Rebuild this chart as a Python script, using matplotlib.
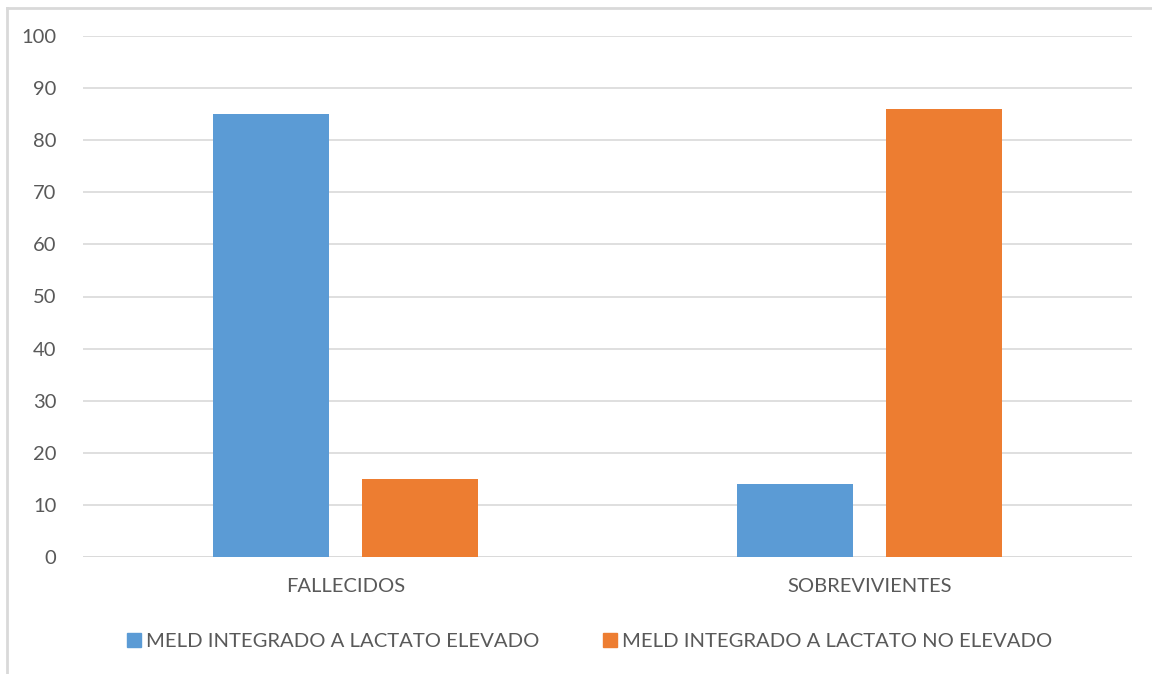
import matplotlib
matplotlib.use("Agg")
import matplotlib.pyplot as plt
from matplotlib.lines import Line2D
import numpy as np

categories = ["FALLECIDOS", "SOBREVIVIENTES"]
series_names = ["MELD INTEGRADO A LACTATO ELEVADO", "MELD INTEGRADO A LACTATO NO ELEVADO"]
elevado = [85, 14]
no_elevado = [15, 86]
yticks = [0, 10, 20, 30, 40, 50, 60, 70, 80, 90, 100]

colors = ["#5B9BD5", "#ED7D31"]
text_color = "#595959"
plt.rcParams['font.family'] = ['Lato', 'DejaVu Sans']

W, H = 1152, 674
fig = plt.figure(figsize=(W / 100, H / 100), dpi=100)
ax = fig.add_axes([83 / W, 1 - 557 / H, (1132 - 83) / W, (557 - 36) / H])

x = np.arange(len(categories))
bw = 0.221
off = 0.142
ax.bar(x - off, elevado, bw, color=colors[0], zorder=3)
ax.bar(x + off, no_elevado, bw, color=colors[1], zorder=3)

ax.set_xlim(-0.5, 1.5)
ax.set_ylim(0, 100)
ax.set_yticks(yticks)
ax.yaxis.grid(True, color="#d9d9d9", linewidth=1.2, zorder=0)
ax.set_xticks(x)
ax.set_xticklabels(categories)
ax.tick_params(axis='both', length=0, colors=text_color, labelsize=14.5)
ax.tick_params(axis='x', pad=15)
ax.tick_params(axis='y', pad=19)
for s in ax.spines.values():
    s.set_visible(False)
ax.axhline(0, color="#d9d9d9", linewidth=1.2, zorder=2)

handles = [Line2D([], [], marker='s', linestyle='none', markersize=10,
                  color=c) for c in colors]
fig.legend(handles, series_names, loc='center', bbox_to_anchor=(588 / W, 1 - 641 / H),
           ncol=2, frameon=False, fontsize=14.6, labelcolor=text_color,
           handletextpad=0.1, columnspacing=3.0, handlelength=1.0)

# outer chart frame (partially visible)
fig.add_artist(Line2D([7 / W, 1], [1 - 8 / H, 1 - 8 / H], color="#d9d9d9", linewidth=2, transform=fig.transFigure))
fig.add_artist(Line2D([7 / W, 7 / W], [0, 1 - 8 / H], color="#d9d9d9", linewidth=2, transform=fig.transFigure))

fig.savefig("out.png", dpi=100, facecolor="white")
